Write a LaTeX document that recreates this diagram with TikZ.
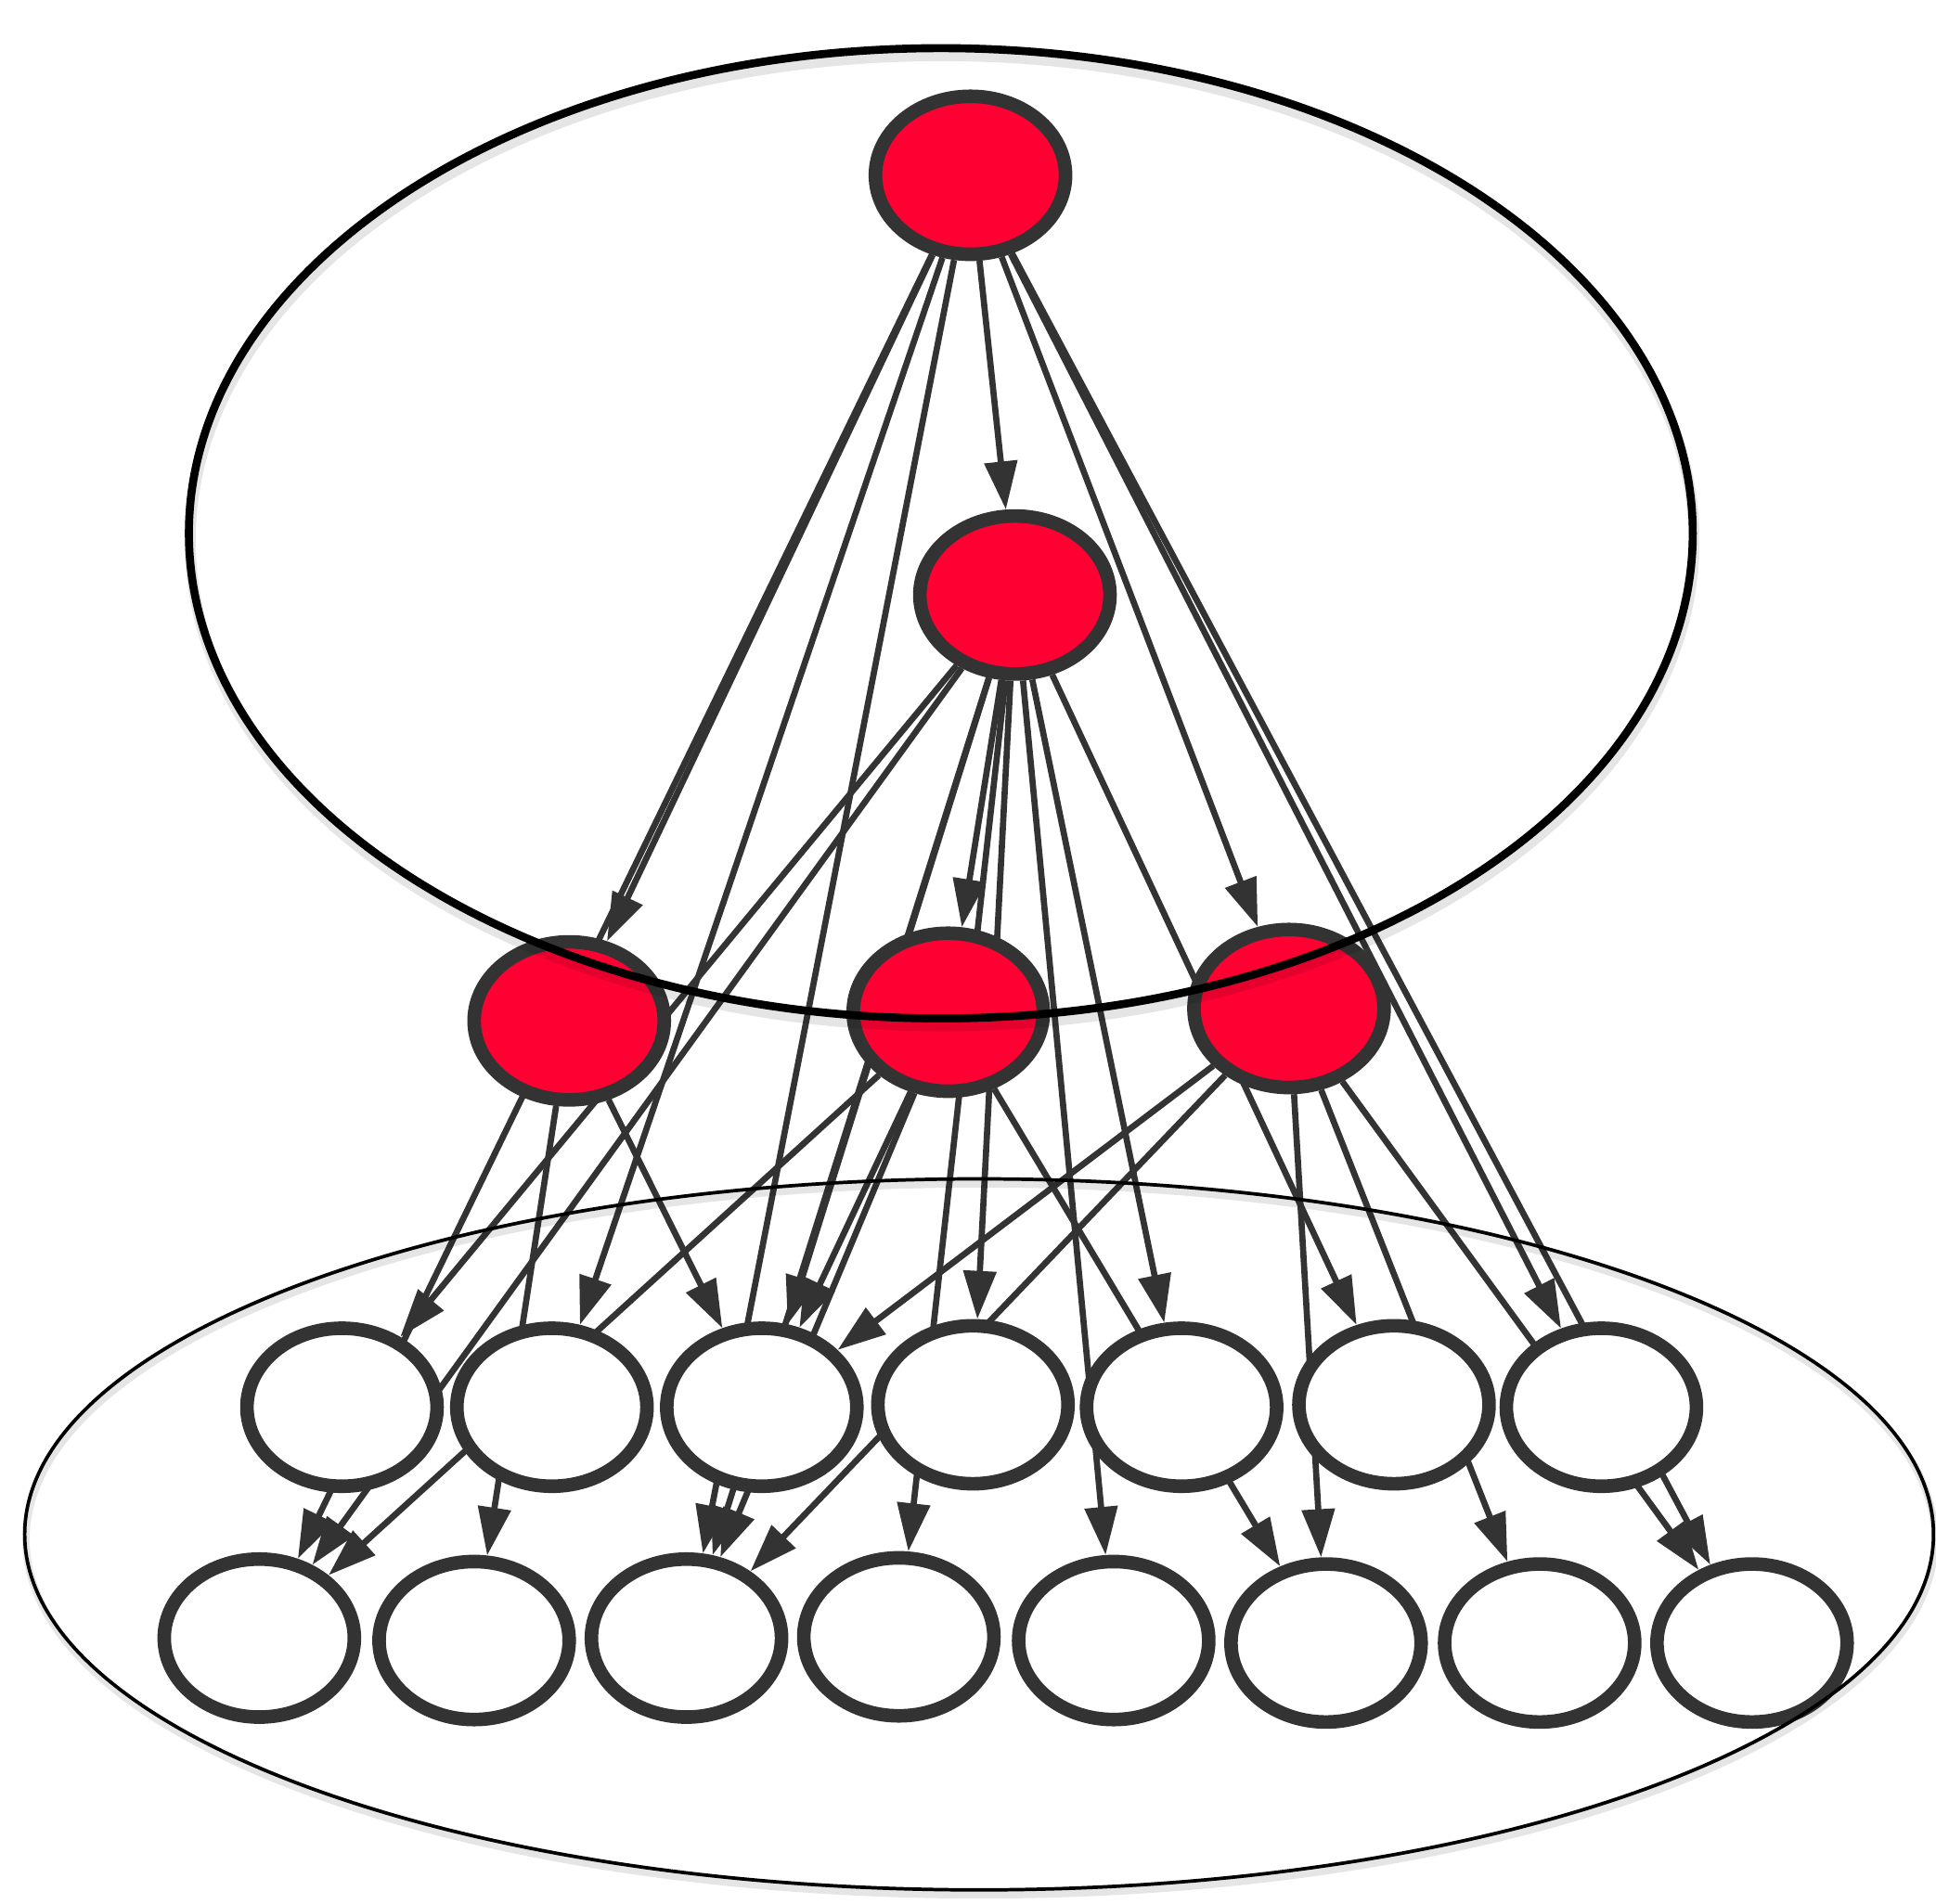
\documentclass[tikz,border=0pt]{standalone}
\usetikzlibrary{shapes.geometric,arrows.meta}
\definecolor{nodered}{HTML}{FF0033}
\definecolor{ink}{HTML}{333333}
\pgfdeclarelayer{edges}
\pgfdeclarelayer{rings}
\pgfsetlayers{edges,main,rings}
\begin{document}
\begin{tikzpicture}[x=0.1mm,y=-0.1mm,
  vert/.style={ellipse, draw=ink, line width=1.1mm, minimum width=15.4mm,
               minimum height=12.8mm, inner sep=0pt},
  latent/.style={vert, fill=nodered},
  observed/.style={vert, fill=white},
  link/.style={draw=ink, line width=0.5mm,
               -{Triangle[length=3.9mm,width=2.6mm]}},
  ring/.style={draw=black},
  ringshade/.style={draw=black, opacity=0.10}
]
\useasboundingbox (0,0) rectangle (1568,1542);

% latent layer
\node[latent] (R0) at (786,142) {};
\node[latent] (R1) at (822,482) {};
\node[latent] (R2) at (461,827) {};
\node[latent] (R3) at (768,820) {};
\node[latent] (R4) at (1044,817) {};

% first observed row
\node[observed] (M1) at (277,1140) {};
\node[observed] (M2) at (447,1140) {};
\node[observed] (M3) at (617,1140) {};
\node[observed] (M4) at (788,1138) {};
\node[observed] (M5) at (957,1140) {};
\node[observed] (M6) at (1129,1138) {};
\node[observed] (M7) at (1297,1140) {};

% second observed row
\node[observed] (B1) at (210,1327) {};
\node[observed] (B2) at (384,1329) {};
\node[observed] (B3) at (556,1327) {};
\node[observed] (B4) at (728,1326) {};
\node[observed] (B5) at (902,1329) {};
\node[observed] (B6) at (1074,1331) {};
\node[observed] (B7) at (1247,1331) {};
\node[observed] (B8) at (1419,1331) {};

% dependencies, drawn beneath the nodes
\begin{pgfonlayer}{edges}
\foreach \s/\t in {R0/R1, R0/R2, R0/B1, R0/M2, R0/B3, R0/R4, R0/M7, R0/B8,
                   R1/R3, R1/M1, R1/B1, R1/M3, R1/B3, R1/M4, R1/B4, R1/B5, R1/M5, R1/M6,
                   R2/M3, R2/B2,
                   R3/M3, R3/B3, R3/B1, R3/B6,
                   R4/M3, R4/B3, R4/B6, R4/B7, R4/B8}
  \draw[link] (\s) -- (\t);
\end{pgfonlayer}

% grouping outlines with a faint drop shadow
\begin{pgfonlayer}{rings}
\draw[ringshade, line width=0.9mm] (763,438) ellipse [x radius=609, y radius=393];
\draw[ring, line width=0.65mm] (762,432) ellipse [x radius=609, y radius=393];
\draw[ringshade, line width=0.6mm] (794,1247) ellipse [x radius=773, y radius=288];
\draw[ring, line width=0.28mm] (793,1243) ellipse [x radius=773, y radius=288];
\end{pgfonlayer}
\end{tikzpicture}
\end{document}
